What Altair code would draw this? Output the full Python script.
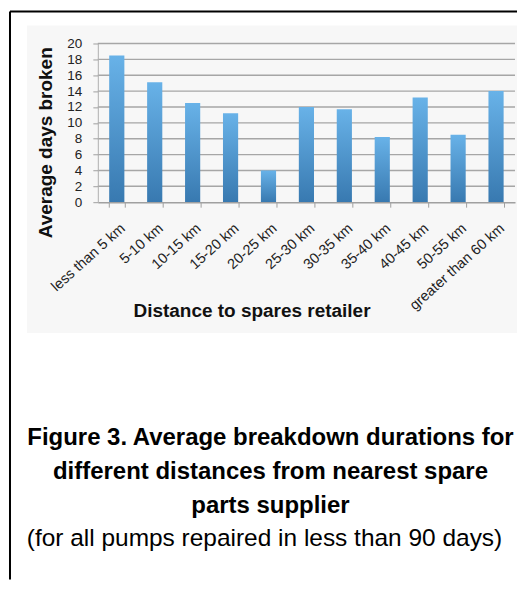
import altair as alt
import pandas as pd

# ---- data ----
categories = ["less than 5 km", "5-10 km", "10-15 km", "15-20 km", "20-25 km",
              "25-30 km", "30-35 km", "35-40 km", "40-45 km", "50-55 km",
              "greater than 60 km"]
avg_days = [18.5, 15.1, 12.5, 11.2, 4.0, 12.0, 11.7, 8.2, 13.2, 8.5, 14.0]
y_ticks = [0, 2, 4, 6, 8, 10, 12, 14, 16, 18, 20]
x_title = "Distance to spares retailer"
y_title = "Average days broken"
caption_lines = ["Figure 3. Average breakdown durations for",
                 "different distances from nearest spare",
                 "parts supplier"]
caption_note = "(for all pumps repaired in less than 90 days)"

FONT = "Liberation Sans"
W, H = 418, 159

df = pd.DataFrame({"distance": categories, "days": avg_days})
grid_df = pd.DataFrame({"tick": y_ticks[1:]})
one = pd.DataFrame({"k": [0]})

y_scale = alt.Scale(domain=[0, 20], nice=False)
x_scale = alt.Scale(paddingInner=0.6, paddingOuter=0.3)

y_axis = alt.Axis(values=y_ticks, grid=False, tickSize=5,
                  tickColor="#a0a0a0", domainColor="#b0b0b0",
                  labelPadding=11, labelFont=FONT, labelFontSize=13.5,
                  labelColor="#222222", title=y_title,
                  titleFont=FONT, titleFontSize=19,
                  titleFontWeight="bold", titleColor="#111111",
                  titleX=-52, titleY=99, titleAngle=270,
                  titleAlign="center", titleBaseline="middle", zindex=1)

x_axis = alt.Axis(title=x_title, tickBand="extent", tickSize=5,
                  tickColor="#a0a0a0", domainColor="#a0a0a0",
                  domainWidth=1.4, labelAngle=-42, labelAlign="right",
                  labelBaseline="middle", labelPadding=19,
                  labelOffset=6, labelFont=FONT, labelFontSize=14.5,
                  labelColor="#222222", labelOverlap=False,
                  titleFont=FONT, titleFontSize=19,
                  titleFontWeight="bold", titleColor="#111111",
                  titleX=154, titleY=115, titleAlign="center",
                  titleBaseline="alphabetic", grid=False, zindex=1)

bar_fill = alt.Gradient(
    gradient="linear", x1=0, x2=0, y1=0, y2=1,
    stops=[alt.GradientStop(offset=0, color="#68b2e8"),
           alt.GradientStop(offset=1, color="#3879b0")])

# decorations: page background panel and frame
panel = alt.Chart(one).mark_rect(color="#f7f7f7").encode(
    x=alt.value(-71), x2=alt.value(420), y=alt.value(-18), y2=alt.value(290))
frame_top = alt.Chart(one).mark_rule(color="black", strokeWidth=2).encode(
    x=alt.value(-88), x2=alt.value(420), y=alt.value(-32))
frame_left = alt.Chart(one).mark_rule(color="black", strokeWidth=2).encode(
    x=alt.value(-88), y=alt.value(-32), y2=alt.value(537))

grid = alt.Chart(grid_df).mark_rule(color="#a6a6a6", strokeWidth=1.4).encode(
    y=alt.Y("tick:Q", scale=y_scale, axis=y_axis),
    x=alt.value(0), x2=alt.value(W))

bars = alt.Chart(df).mark_bar(color=bar_fill).encode(
    x=alt.X("distance:N", sort=categories, scale=x_scale, axis=x_axis),
    y=alt.Y("days:Q", scale=y_scale, axis=y_axis))

layers = [panel, frame_top, frame_left, grid, bars]

cap_y0, cap_lh = 402, 34
for i, line in enumerate(caption_lines):
    layers.append(alt.Chart(one).mark_text(
        font=FONT, fontSize=24, fontWeight="bold", align="center",
        baseline="alphabetic", color="black").encode(
        x=alt.value(173), y=alt.value(cap_y0 + i * cap_lh),
        text=alt.value(line)))
layers.append(alt.Chart(one).mark_text(
    font=FONT, fontSize=24.5, align="center", baseline="alphabetic",
    color="black").encode(
    x=alt.value(167), y=alt.value(cap_y0 + 3 * cap_lh - 1),
    text=alt.value(caption_note)))

chart = alt.layer(*layers).properties(
    width=W, height=H,
    padding={"left": 1, "top": 2, "right": 0, "bottom": 0},
    background="white",
).configure_view(strokeWidth=0)

chart.save("out.html", embed_options={"renderer": "svg", "actions": False})
